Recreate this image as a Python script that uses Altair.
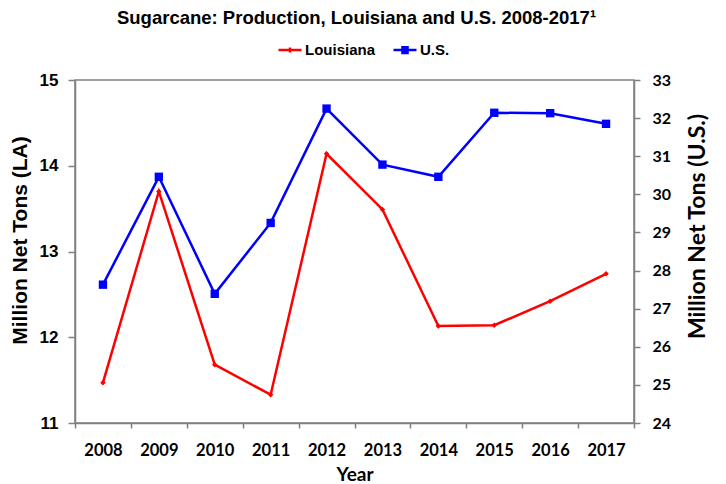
import altair as alt
import pandas as pd

years = ["2008", "2009", "2010", "2011", "2012", "2013", "2014", "2015", "2016", "2017"]
louisiana = [11.47, 13.70, 11.68, 11.33, 14.14, 13.49, 12.13, 12.14, 12.42, 12.74]
us = [27.63, 30.46, 27.39, 29.25, 32.25, 30.78, 30.46, 32.14, 32.13, 31.85]
series_names = ["Louisiana", "U.S."]
series_colors = ["#ff0000", "#0000ff"]

df = pd.DataFrame({
    "Year": years * 2,
    "Series": [series_names[0]] * len(years) + [series_names[1]] * len(years),
    "Value": louisiana + us,
})

GREY = "#808080"

# legend symbols: a line with a marker in its middle
legend_shapes = [
    "M-1,0H1M0,-0.22V0.22M-0.22,0H0.22",
    "M-1,0H1M-0.33,-0.25H0.33M-0.33,-0.08H0.33M-0.33,0.08H0.33M-0.33,0.25H0.33",
]

legend = alt.Legend(
    title=None, orient="none", direction="horizontal", legendX=202, legendY=-43,
    labelFont="Liberation Sans", labelFontSize=15, labelFontWeight="bold",
    labelColor="black", symbolSize=529, symbolStrokeWidth=2.5, symbolOpacity=1,
    columnPadding=12, labelOffset=2,
)

color_scale = alt.Scale(domain=series_names, range=series_colors)

x = alt.X(
    "Year:O",
    bandPosition=0.5,
    scale=alt.Scale(type="band", paddingInner=0, paddingOuter=0),
    axis=alt.Axis(
        title="Year", tickBand="extent", labelAngle=0,
        labelFont="Lato", labelFontSize=16.5, labelFontWeight="bold", labelColor="black",
        titleFont="Lato", titleFontSize=19, titleFontWeight="bold", titleColor="black",
        titleBaseline="alphabetic", titleY=57,
        tickColor=GREY, domainColor=GREY, domainWidth=1.5, tickWidth=1.5, tickSize=5,
        labelPadding=14, grid=False,
    ),
)

base = alt.Chart(df)

la_layer = base.transform_filter(alt.datum.Series == "Louisiana").mark_line(
    strokeWidth=2.5,
    point=alt.OverlayMarkDef(shape="diamond", size=30, filled=True, color="#ff0000"),
).encode(
    x=x,
    y=alt.Y(
        "Value:Q",
        scale=alt.Scale(domain=[11, 15], nice=False, zero=False),
        axis=alt.Axis(
            values=[11, 12, 13, 14, 15], title="Million Net Tons (LA)", grid=False,
            labelFont="Liberation Sans", labelFontSize=17, labelFontWeight="bold", labelColor="black",
            titleFont="Liberation Sans", titleFontSize=21, titleFontWeight="bold", titleColor="black",
            tickColor=GREY, domainColor=GREY, domainWidth=1.5, tickWidth=1.5, tickSize=7,
            labelPadding=10, titleAngle=270, titleAlign="center", titleBaseline="middle",
            titleX=-55, titleY=160,
        ),
    ),
    color=alt.Color("Series:N", scale=color_scale),
)

us_layer = base.transform_filter(alt.datum.Series == "U.S.").mark_line(
    strokeWidth=2.5,
    point=alt.OverlayMarkDef(shape="square", size=70, filled=True, color="#0000ff"),
).encode(
    x=x,
    y=alt.Y(
        "Value:Q",
        scale=alt.Scale(domain=[24, 33], nice=False, zero=False),
        axis=alt.Axis(
            orient="right", values=list(range(24, 34)), title="Million Net Tons (U.S.)", grid=False,
            labelFont="Lato", labelFontSize=16, labelFontWeight="bold", labelColor="black",
            titleFont="Lato", titleFontSize=23, titleFontWeight="bold", titleColor="black",
            tickColor=GREY, domainColor=GREY, domainWidth=1.5, tickWidth=1.5, tickSize=6,
            labelPadding=12, titleAngle=270, titleAlign="center", titleBaseline="middle",
            titleX=63, titleY=146,
        ),
    ),
    color=alt.Color("Series:N", scale=color_scale),
)

legend_layer = base.mark_point(opacity=0, filled=False, strokeWidth=2.5).encode(
    x=x,
    y=alt.value(0),
    color=alt.Color("Series:N", scale=color_scale, legend=legend),
    shape=alt.Shape("Series:N", scale=alt.Scale(domain=series_names, range=legend_shapes), legend=legend),
)

chart = alt.layer(la_layer, us_layer, legend_layer).resolve_scale(y="independent").properties(
    width=559, height=343,
    autosize=alt.AutoSizeParams(type="none"),
    padding={"left": 67, "top": 72, "right": 84, "bottom": 61},
    title=alt.TitleParams(
        text="Sugarcane: Production, Louisiana and U.S. 2008-2017\u00b9",
        font="Liberation Sans", fontSize=18.5, fontWeight="bold", color="black",
        anchor="middle", offset=10, dx=2,
    ),
).configure_view(stroke=GREY, strokeWidth=1.5)

chart.save("out.html", embed_options={"renderer": "svg", "actions": False})
